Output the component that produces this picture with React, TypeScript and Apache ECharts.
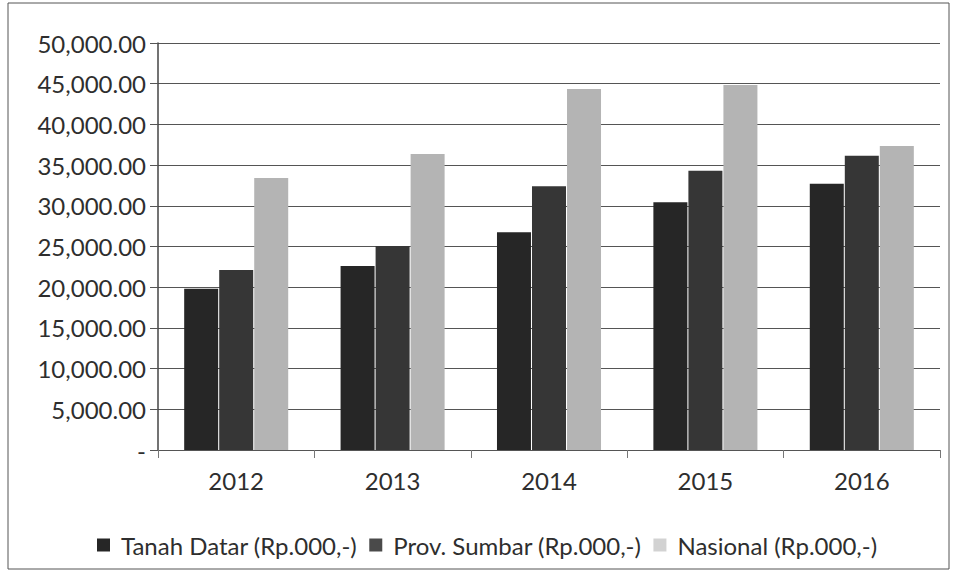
import React, { useEffect, useRef } from "react";
import * as echarts from "echarts";

const years = ["2012", "2013", "2014", "2015", "2016"];
const tanahDatar = [19800, 22600, 26750, 30450, 32700];
const provSumbar = [22100, 25050, 32400, 34300, 36150];
const nasional = [33400, 36350, 44350, 44850, 37350];
const seriesNames = [
  "Tanah Datar (Rp.000,-)",
  "Prov. Sumbar (Rp.000,-)",
  "Nasional (Rp.000,-)",
];

const fmt = (v: number) =>
  v === 0
    ? "-"
    : v.toLocaleString("en-US", { minimumFractionDigits: 2, maximumFractionDigits: 2 });

export default function App() {
  const ref = useRef<HTMLDivElement>(null);
  useEffect(() => {
    if (!ref.current) return;
    const chart = echarts.init(ref.current, null, { renderer: "svg" });
    const font = "Lato, 'Open Sans', sans-serif";
    const txt = "#2e2e2e";
    chart.setOption({
      animation: false,
      backgroundColor: "#ffffff",
      textStyle: { fontFamily: font },
      graphic: [
        {
          type: "rect",
          shape: { x: 8, y: 3, width: 941, height: 566 },
          style: { fill: "none", stroke: "#555", lineWidth: 1 },
          silent: true,
        },
      ],
      grid: { left: 158, right: 17, top: 43, bottom: 127, containLabel: false },
      legend: {
        top: 528,
        left: 92,
        itemWidth: 13,
        itemHeight: 13,
        itemGap: 12,
        icon: "rect",
        textStyle: {
          fontSize: 24,
          color: txt,
          fontFamily: font,
          padding: [0, 0, 0, 6],
        },
        data: [
          { name: seriesNames[0], itemStyle: { color: "#262626" } },
          { name: seriesNames[1], itemStyle: { color: "#4a4a4a" } },
          { name: seriesNames[2], itemStyle: { color: "#d2d2d2" } },
        ],
      },
      xAxis: {
        type: "category",
        data: years,
        axisLine: { lineStyle: { color: "#555", width: 1 } },
        axisTick: { show: true, length: 8, lineStyle: { color: "#777" } },
        axisLabel: { fontSize: 24, color: txt, margin: 18, fontFamily: font },
      },
      yAxis: {
        type: "value",
        min: 0,
        max: 50000,
        interval: 5000,
        axisLine: { show: true, lineStyle: { color: "#444", width: 1.5 } },
        axisTick: { show: true, length: 8, lineStyle: { color: "#555" } },
        axisLabel: {
          fontSize: 24,
          color: txt,
          margin: 12,
          fontFamily: font,
          formatter: (v: number) => fmt(v),
        },
        splitLine: { lineStyle: { color: "#555", width: 1 } },
      },
      series: [
        {
          name: seriesNames[0],
          type: "bar",
          data: tanahDatar,
          barWidth: 34,
          barGap: "3%",
          itemStyle: { color: "#262626" },
        },
        {
          name: seriesNames[1],
          type: "bar",
          data: provSumbar,
          barWidth: 34,
          barGap: "3%",
          itemStyle: { color: "#363636" },
        },
        {
          name: seriesNames[2],
          type: "bar",
          data: nasional,
          barWidth: 34,
          barGap: "3%",
          itemStyle: { color: "#b4b4b4" },
        },
      ],
    });
    return () => chart.dispose();
  }, []);
  return (
    <div
      ref={ref}
      style={{ position: "fixed", left: 0, top: 0, width: 957, height: 577 }}
    />
  );
}
